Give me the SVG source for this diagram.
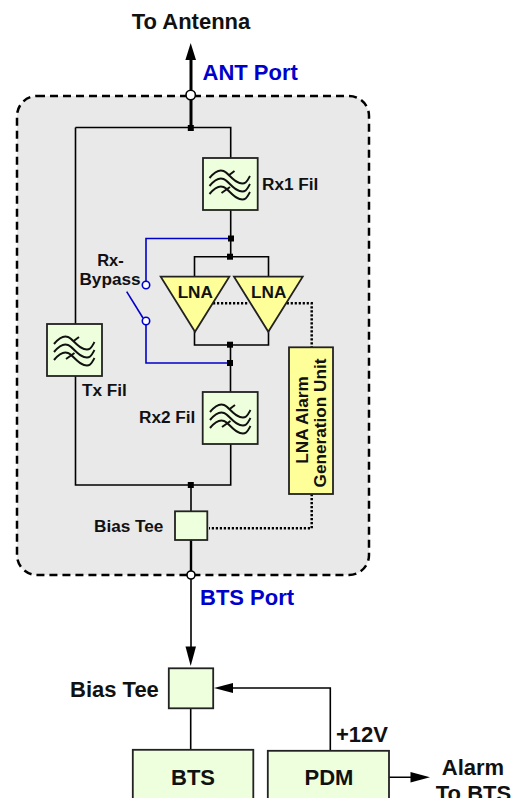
<svg xmlns="http://www.w3.org/2000/svg" width="511" height="798" viewBox="0 0 511 798">
<style>
text{font-family:"Liberation Sans",Arial,sans-serif;font-weight:bold;fill:#111}
.w{fill:none;stroke:#000;stroke-width:1.6}
.t{fill:none;stroke:#000;stroke-width:3}
.b{fill:none;stroke:#0000cc;stroke-width:1.6}
.d{fill:none;stroke:#000;stroke-width:2.500;stroke-dasharray:2.200 1.800}
.g{fill:#eeffdd;stroke:#222;stroke-width:1.800}
.y{fill:#ffff99;stroke:#222;stroke-width:1.800}
.j{fill:#000}
.o{fill:#fff;stroke:#0000cc;stroke-width:1.600}
.wv{fill:none;stroke:#111;stroke-width:2}
.s{font-size:17.200px}.m{font-size:22px}
</style>
<defs>
<g id="wave">
<path class="wv" d="M-20 -6C-15 -12 -11 -15 -6 -13S3 -3 10 -1S18 -4 20.500 -8"/>
<path class="wv" d="M-20 2C-15 -4 -11 -7 -6 -5S3 5 10 7S18 4 20.500 0"/>
<path class="wv" d="M-20 10C-15 4 -11 1 -6 3S3 13 10 15S18 12 20.500 8"/>
<path class="wv" d="M-1 -8.500L5 -13M-8 9L0.500 3"/>
</g>
</defs>
<rect x="17" y="96" width="352" height="479" rx="20" fill="#e9e9e9" stroke="#000" stroke-width="2.500" stroke-dasharray="8 5"/>
<g id="connectors">
<path class="t" d="M191 58V128"/>
<path class="j" d="M190.700 43L196 60H185.400Z"/>
<path class="w" d="M75.500 127.500H230.700V158M75.500 127.500V324M75.500 376V485H230.700V444M230.700 210V257M230.500 345V392M194.500 277V256.700H268.500V277M194.500 331V345H268.500V331"/>
<path class="b" d="M231 238.500H146V281.500M146 324.500V363H231"/>
<path class="b" d="M126.700 291.700L143 318"/>
<path class="d" d="M213 303.300H248M286.700 303.300H311.700V347M311.700 494V528.300H209"/>
<path class="w" d="M191 485V512"/>
<path class="t" d="M191 540V575" style="stroke-width:2.400"/>
<path class="w" d="M191 575V650M190.700 708V750M330.300 751V688H232M388 777.300H412"/>
<path class="j" d="M190.700 666L185.500 646.500H196Z"/>
<path class="j" d="M214 688L233 683V693Z"/>
<path class="j" d="M430 777.300L410.500 772V782.500Z"/>
<rect class="j" x="187.800" y="125" width="6" height="6"/>
<rect class="j" x="228" y="235.500" width="6" height="6"/>
<rect class="j" x="227" y="253.700" width="6" height="6"/>
<rect class="j" x="227" y="341.700" width="6" height="6"/>
<rect class="j" x="227" y="360" width="6" height="6"/>
<rect class="j" x="187.800" y="482" width="6" height="6"/>
<circle class="o" cx="146" cy="285" r="3.700"/>
<circle class="o" cx="146" cy="321" r="3.700"/>
<circle cx="190.700" cy="95" r="4.700" fill="#fff" stroke="#000" stroke-width="1.600"/>
<circle cx="191" cy="575" r="4" fill="#fff" stroke="#000" stroke-width="1.600"/>
</g>
<text x="191" y="29" text-anchor="middle" class="m">To Antenna</text>
<text x="202.500" y="80" class="m" style="fill:#0000cc">ANT Port</text>
<text x="200" y="605" class="m" style="fill:#0000cc">BTS Port</text>
<g id="rx1"><rect class="g" x="203" y="158" width="54.700" height="52"/><use href="#wave" x="229.500" y="184"/><text x="262" y="190" class="s">Rx1 Fil</text></g>
<g id="tx"><rect class="g" x="47" y="324" width="55" height="52"/><use href="#wave" x="74" y="350"/><text x="82" y="396" class="s">Tx Fil</text></g>
<g id="rx2"><rect class="g" x="202.700" y="392" width="55" height="52"/><use href="#wave" x="230" y="418"/><text x="139" y="423" class="s">Rx2 Fil</text></g>
<g id="lna1"><path class="y" d="M160.700 276.700H229.300L195 331.700Z"/><text x="195.300" y="298" text-anchor="middle" class="s">LNA</text></g>
<g id="lna2"><path class="y" d="M234 276.700H302.700L268.300 331.700Z"/><text x="268.700" y="298" text-anchor="middle" class="s">LNA</text></g>
<g id="rxbypass"><text x="110.500" y="266" text-anchor="middle" class="s" style="font-size:16.500px">Rx-</text><text x="110" y="284.500" text-anchor="middle" class="s">Bypass</text></g>
<g id="alarmunit"><rect class="y" x="289" y="347.300" width="44" height="146.700"/><text transform="translate(308.300 420) rotate(-90)" text-anchor="middle" class="s">LNA Alarm</text><text transform="translate(325.500 423) rotate(-90)" text-anchor="middle" class="s">Generation Unit</text></g>
<g id="biastee1"><rect class="g" x="175" y="511.300" width="32.300" height="28.700"/><text x="94" y="532" class="s">Bias Tee</text></g>
<g id="biastee2"><rect class="g" x="168.800" y="668.300" width="44.400" height="40"/><text x="70" y="696.500" class="m">Bias Tee</text></g>
<g id="bts"><rect class="g" x="132.800" y="749.800" width="120.500" height="60"/><text x="193" y="785" text-anchor="middle" class="m">BTS</text></g>
<g id="pdm"><rect class="g" x="267.800" y="750.800" width="121.200" height="60"/><text x="329" y="785" text-anchor="middle" class="m">PDM</text></g>
<text x="336" y="741.500" class="m">+12V</text>
<text x="473" y="775" text-anchor="middle" class="m">Alarm</text>
<text x="473.500" y="801" text-anchor="middle" class="m">To BTS</text>
</svg>
